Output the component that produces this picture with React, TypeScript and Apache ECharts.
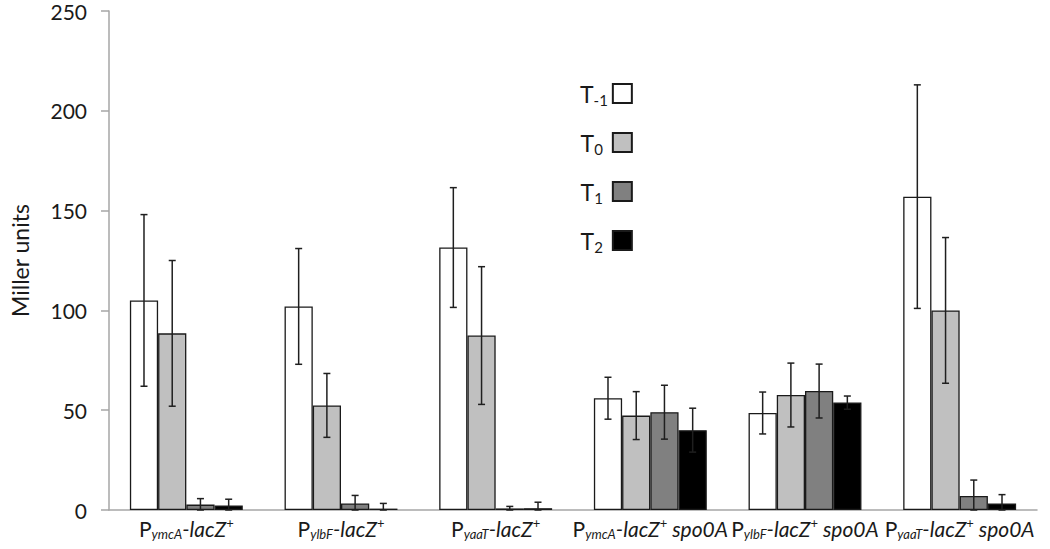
import React, { useEffect, useRef } from "react";
import * as echarts from "echarts";

const promoters = ["ymcA", "ylbF", "yaaT", "ymcA", "ylbF", "yaaT"];
const backgrounds = ["", "", "", "spo0A", "spo0A", "spo0A"];
const categories = promoters.map((p, i) => `P${p}-lacZ+${backgrounds[i] ? " " + backgrounds[i] : ""}`);

const seriesNames = ["T-1", "T0", "T1", "T2"];
const seriesSubs = ["-1", "0", "1", "2"];
const seriesColors = ["#ffffff", "#c0c0c0", "#808080", "#000000"];

const tm1Values = [105, 102, 131.5, 56, 48.6, 157];
const tm1Errors = [43, 29, 30, 10.5, 10.5, 56];
const t0Values = [88.5, 52.4, 87.4, 47.3, 57.6, 100];
const t0Errors = [36.5, 16, 34.5, 12, 16, 36.5];
const t1Values = [2.7, 3.3, 0.8, 49, 59.6, 7];
const t1Errors = [3, 4, 1, 13.5, 13.5, 8];
const t2Values = [2.3, 0.7, 0.9, 40, 53.8, 3.3];
const t2Errors = [3.1, 2.6, 3, 11, 3.3, 4.4];

const yTicks = { min: 0, max: 250, interval: 50 };

const valuesList = [tm1Values, t0Values, t1Values, t2Values];
const errorsList = [tm1Errors, t0Errors, t1Errors, t2Errors];

const CAT_GAP = 0.27;
const FONT = "Lato, 'Open Sans', sans-serif";

export default function App() {
  const ref = useRef<HTMLDivElement>(null);
  useEffect(() => {
    if (!ref.current) return;
    const chart = echarts.init(ref.current, null, { renderer: "svg" });

    const barSeries = seriesNames.map((name, s) => ({
      name,
      type: "bar",
      data: valuesList[s],
      barGap: "0%",
      barCategoryGap: `${CAT_GAP * 100}%`,
      itemStyle: { color: seriesColors[s], borderColor: "#1a1a1a", borderWidth: 1.3 },
      z: 2,
    }));

    const errSeries = seriesNames.map((name, s) => ({
      name: name + " error",
      type: "custom",
      z: 5,
      silent: true,
      data: valuesList[s].map((v, i) => [i, v, errorsList[s][i]]),
      renderItem: (params: any, api: any) => {
        const x = api.value(0);
        const v = api.value(1);
        const e = api.value(2);
        const band = api.size([1, 0])[0];
        const bw = (band * (1 - CAT_GAP)) / 4;
        const cx = api.coord([x, v])[0] + (s - 1.5) * bw;
        const top = api.coord([x, v + e])[1];
        const bot = api.coord([x, Math.max(v - e, 0)])[1];
        const cap = 3.5;
        const st = { stroke: "#1f1f1f", lineWidth: 1.5 };
        return {
          type: "group",
          children: [
            { type: "line", shape: { x1: cx, y1: top, x2: cx, y2: bot }, style: st },
            { type: "line", shape: { x1: cx - cap, y1: top, x2: cx + cap, y2: top }, style: st },
            { type: "line", shape: { x1: cx - cap, y1: bot, x2: cx + cap, y2: bot }, style: st },
          ],
        };
      },
    }));

    chart.setOption({
      animation: false,
      backgroundColor: "#ffffff",
      grid: { left: 108, right: 13, top: 11, bottom: 39, containLabel: false },
      legend: {
        orient: "vertical",
        align: "right",
        left: 575,
        top: 75,
        itemWidth: 19,
        itemHeight: 19,
        itemGap: 22,
        icon: "rect",
        data: seriesNames,
        formatter: (name: string) => {
          const sub = seriesSubs[seriesNames.indexOf(name)];
          return `{t|T}{${sub.length > 1 ? "sl" : "ss"}|${sub}}`;
        },
        textStyle: {
          rich: {
            t: { fontSize: 23, fontFamily: FONT, color: "#1a1a1a", lineHeight: 20 },
            sl: { fontSize: 15, fontFamily: FONT, color: "#1a1a1a", lineHeight: 20, padding: [12, 0, 0, 0] },
            ss: { fontSize: 15, fontFamily: FONT, color: "#1a1a1a", lineHeight: 20, padding: [12, 5, 0, 0] },
          },
        },
      },
      xAxis: {
        type: "category",
        data: categories,
        axisLine: { lineStyle: { color: "#a6a6a6", width: 1.5 } },
        axisTick: { show: false },
        axisLabel: {
          margin: 6,
          interval: 0,
          formatter: (_v: string, idx: number) =>
            `{p|P}{sub|${promoters[idx]}}{i|-lacZ}{sup|+}` + (backgrounds[idx] ? `{i| ${backgrounds[idx]}}` : ""),
          rich: {
            p: { fontSize: 21, fontFamily: FONT, color: "#1a1a1a", lineHeight: 24 },
            i: { fontSize: 21, fontFamily: FONT, fontStyle: "italic", color: "#1a1a1a", lineHeight: 24 },
            sub: { fontSize: 13, fontFamily: FONT, fontStyle: "italic", color: "#1a1a1a", lineHeight: 24, padding: [11, 0, 0, 0] },
            sup: { fontSize: 13, fontFamily: FONT, color: "#1a1a1a", lineHeight: 24, padding: [0, 0, 11, 0] },
          },
        },
      },
      yAxis: {
        type: "value",
        min: yTicks.min,
        max: yTicks.max,
        interval: yTicks.interval,
        name: "Miller units",
        nameLocation: "middle",
        nameGap: 78,
        nameTextStyle: { fontSize: 23, fontFamily: FONT, color: "#1a1a1a" },
        axisLine: { show: true, lineStyle: { color: "#a6a6a6", width: 1.5 } },
        axisTick: { show: true, inside: false, length: 8, lineStyle: { color: "#a6a6a6", width: 1.5 } },
        splitLine: { show: false },
        axisLabel: { fontSize: 21, lineHeight: 20, fontFamily: FONT, color: "#1a1a1a", margin: 22 },
      },
      series: [...barSeries, ...errSeries],
    });
    return () => chart.dispose();
  }, []);
  return <div ref={ref} style={{ position: "fixed", left: 0, top: 0, width: 1050, height: 549 }} />;
}
